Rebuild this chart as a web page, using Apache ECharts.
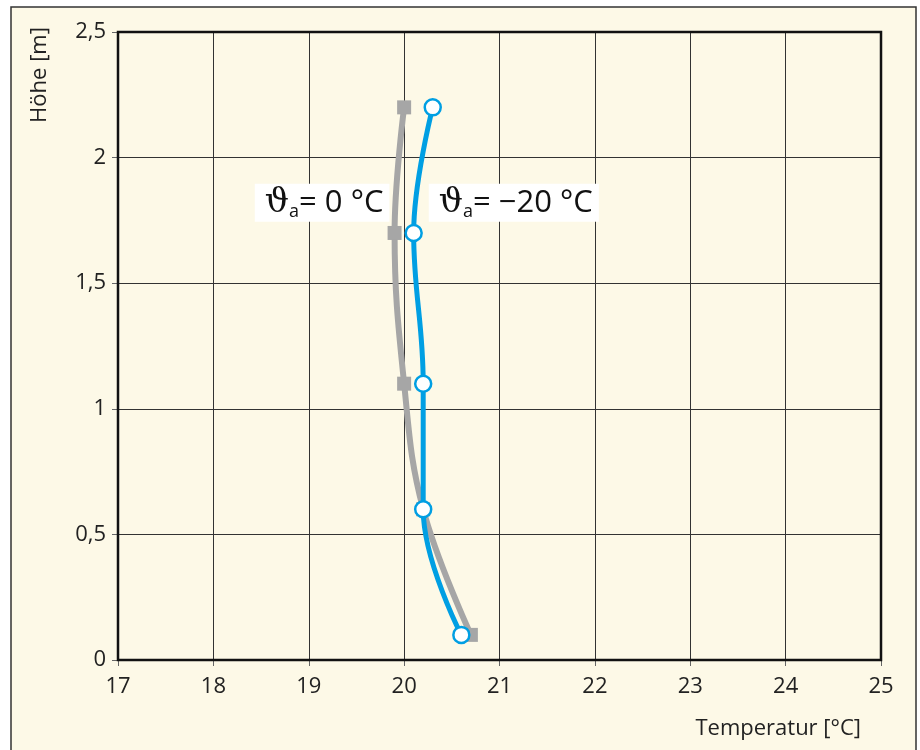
<!DOCTYPE html>
<html>
<head>
<meta charset="utf-8">
<script src="https://cdn.jsdelivr.net/npm/echarts@6/dist/echarts.min.js"></script>
<style>
  html, body { margin: 0; padding: 0; background: #fff; }
  #chart { width: 920px; height: 750px; }
</style>
</head>
<body>
<div id="chart"></div>
<script>
// Messwerte: Höhe [m] und Temperatur [°C]
const heights = [0.1, 0.6, 1.1, 1.7, 2.2];
const tempOutside0 = [20.7, 20.2, 20.0, 19.9, 20.0];
const tempOutside20 = [20.6, 20.2, 20.2, 20.1, 20.3];
const xTicks = [17, 18, 19, 20, 21, 22, 23, 24, 25];
const yTicks = [0, 0.5, 1, 1.5, 2, 2.5];

const FONT = '"Open Sans", "Noto Sans", sans-serif';

function pairs(xs, ys) {
    return xs.map((x, i) => [x, ys[i]]);
}

const chart = echarts.init(document.getElementById('chart'));

const option = {
    backgroundColor: '#ffffff',
    animation: false,
    grid: {
        left: 118, top: 32, right: 39, bottom: 90,
        show: true,
        borderColor: '#111',
        borderWidth: 2.5,
        z: 3
    },
    xAxis: {
        type: 'value',
        min: xTicks[0], max: xTicks[xTicks.length - 1], interval: 1,
        axisLine: { show: false },
        axisTick: { show: true, length: 6, lineStyle: { color: '#666', width: 1 } },
        axisLabel: { color: '#222', fontSize: 22, fontFamily: FONT, margin: 16 },
        splitLine: { show: true, lineStyle: { color: '#333', width: 1 } }
    },
    yAxis: {
        type: 'value',
        min: yTicks[0], max: yTicks[yTicks.length - 1], interval: 0.5,
        axisLine: { show: false },
        axisTick: { show: true, length: 6, lineStyle: { color: '#666', width: 1 } },
        axisLabel: {
            color: '#222', fontSize: 22, fontFamily: FONT, margin: 12,
            formatter: v => String(v).replace('.', ',')
        },
        splitLine: { show: true, lineStyle: { color: '#333', width: 1 } }
    },
    series: [
        {
            name: 'ϑa = 0 °C',
            type: 'line',
            data: pairs(tempOutside0, heights),
            smooth: 0.4,
            symbol: 'rect',
            symbolSize: 14,
            lineStyle: { color: '#a6a6a6', width: 6 },
            itemStyle: { color: '#a6a6a6' },
            z: 4
        },
        {
            name: 'ϑa = −20 °C',
            type: 'line',
            data: pairs(tempOutside20, heights),
            smooth: 0.4,
            symbol: 'circle',
            symbolSize: 16,
            lineStyle: { color: '#009fe3', width: 5 },
            itemStyle: { color: '#ffffff', borderColor: '#009fe3', borderWidth: 2.5 },
            z: 5
        }
    ]
};

chart.setOption(option);

// Beschriftungen an Datenpositionen
const p0 = chart.convertToPixel({ gridIndex: 0 }, [19.14, 1.82]);
const p20 = chart.convertToPixel({ gridIndex: 0 }, [21.15, 1.82]);

function curveLabel(pos, value) {
    return {
        type: 'text',
        x: pos[0], y: pos[1],
        z: 10,
        style: {
            text: '{g|ϑ}{s|a}{t|= ' + value + ' °C}',
            align: 'center',
            verticalAlign: 'middle',
            backgroundColor: '#ffffff',
            padding: [1, 6, 1, 10],
            rich: {
                g: { fontSize: 34, fontFamily: '"DejaVu Serif", serif', fill: '#111', verticalAlign: 'middle' },
                s: { fontSize: 18, fontFamily: FONT, fill: '#111', padding: [18, 0, 0, 0] },
                t: { fontSize: 31, fontFamily: FONT, fill: '#111' }
            }
        }
    };
}

chart.setOption({
    graphic: [
        {
            type: 'rect',
            shape: { x: 11, y: 7, width: 905, height: 760 },
            style: { fill: '#fdf9e7', stroke: '#333', lineWidth: 1.5 },
            z: -10, silent: true
        },
        {
            type: 'text',
            x: 40, y: 75, rotation: Math.PI / 2,
            style: {
                text: 'Höhe [m]', fontSize: 22, fontFamily: FONT, fill: '#222',
                align: 'center', verticalAlign: 'middle'
            }
        },
        {
            type: 'text',
            x: 861, y: 729,
            style: {
                text: 'Temperatur [°C]', fontSize: 22, fontFamily: FONT, fill: '#222',
                align: 'right', verticalAlign: 'middle'
            }
        },
        curveLabel(p0, '0'),
        curveLabel(p20, '−20')
    ]
});
</script>
</body>
</html>
